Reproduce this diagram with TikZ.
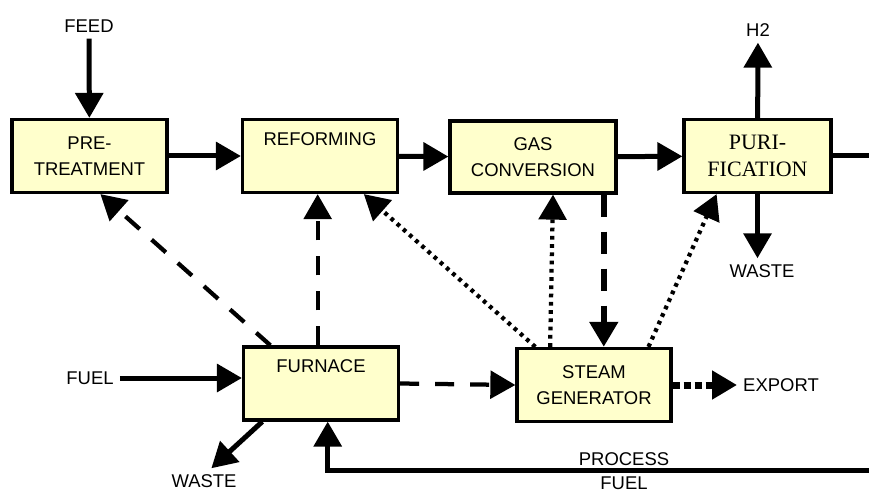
\documentclass[tikz,border=0pt]{standalone}
\usepackage{fontspec}
\setmainfont{Liberation Sans}
\newfontfamily\puriserif{Liberation Serif}
\usetikzlibrary{arrows.meta}
\definecolor{boxyellow}{RGB}{255,255,204}
\begin{document}
\begin{tikzpicture}[x=.2mm,y=-.2mm,
    font=\fontsize{10.5}{15}\selectfont,
    unit/.style={draw,line width=.65mm,fill=boxyellow,
        minimum width=31mm,minimum height=14.6mm,align=center},
    tip/.style={-{Triangle[length=5mm,width=5.5mm]}},
    flowline/.style={tip,line width=1mm},
    heatline/.style={tip,line width=.85mm,dash pattern=on 3.8mm off 3.2mm},
    waterline/.style={tip,line width=1.3mm,dash pattern=on 4.4mm off 3mm},
    steamline/.style={tip,line width=.85mm,dash pattern=on .75mm off .9mm},
    exportline/.style={tip,line width=1.4mm,dash pattern=on 1.4mm off .8mm}]
    \useasboundingbox (0,0) rectangle (869,493);
    \path
    (89.5,156) node[unit] (pre) {PRE-\\TREATMENT} % <<< main train
    (320,156) node[unit] (ref) {REFORMING\\\strut}
    (533,157) node[unit,minimum width=33.2mm,minimum height=14.4mm] (gas) {GAS\\CONVERSION}
    (757.5,156) node[unit,minimum width=29.4mm,
        font=\puriserif\fontsize{12.5}{15.3}\selectfont] (puri) {PURI-\\FICATION}
    (321,383.5) node[unit] (furn) {FURNACE\\\strut} % <<< utilities
    (594,385) node[unit,minimum width=30.8mm] (steam) {STEAM\\GENERATOR}
    (89,26) node (feed) {FEED} % <<< streams in and out
    (758,30) node (h2) {H2}
    (762,271) node (wastep) {WASTE}
    (90,378) node (fuel) {FUEL}
    (204,481) node (wastef) {WASTE}
    (781,385) node (export) {EXPORT}
    (624,471) node[align=center,font=\fontsize{10.5}{13.6}\selectfont] (pfuel) {PROCESS\\FUEL};
    \coordinate (pfr) at (885,470);
    \begin{scope}[flowline]
        \draw (feed) -- (pre);
        \draw (pre) -- (ref);
        \draw (ref) -- (gas);
        \draw (gas) -- (puri);
        \draw (puri) -- (h2);
        \draw (puri.south) -- (puri.south |- wastep.north);
        \draw (fuel) -- (fuel -| furn.west);
        \draw (furn.213) -- (wastef.60);
        \draw (puri.east) -- (puri.east -| pfr) -- (pfr) -| (furn.-80);
    \end{scope}
    \begin{scope}[heatline]
        \draw (furn.143) -- (pre.-74);
        \draw (furn.95) -- (furn.95 |- ref.south);
        \draw (furn.east) -- (steam.west);
    \end{scope}
    \draw[waterline] (gas.-28) -- (gas.-28 |- steam.north);
    \begin{scope}[steamline]
        \draw (steam.147) -- (ref.-41);
        \draw (steam.139) -- (gas.-62);
        \draw (steam.35) -- (puri.-137);
    \end{scope}
    \draw[exportline] (steam.east) -- (export);
\end{tikzpicture}
\end{document}
